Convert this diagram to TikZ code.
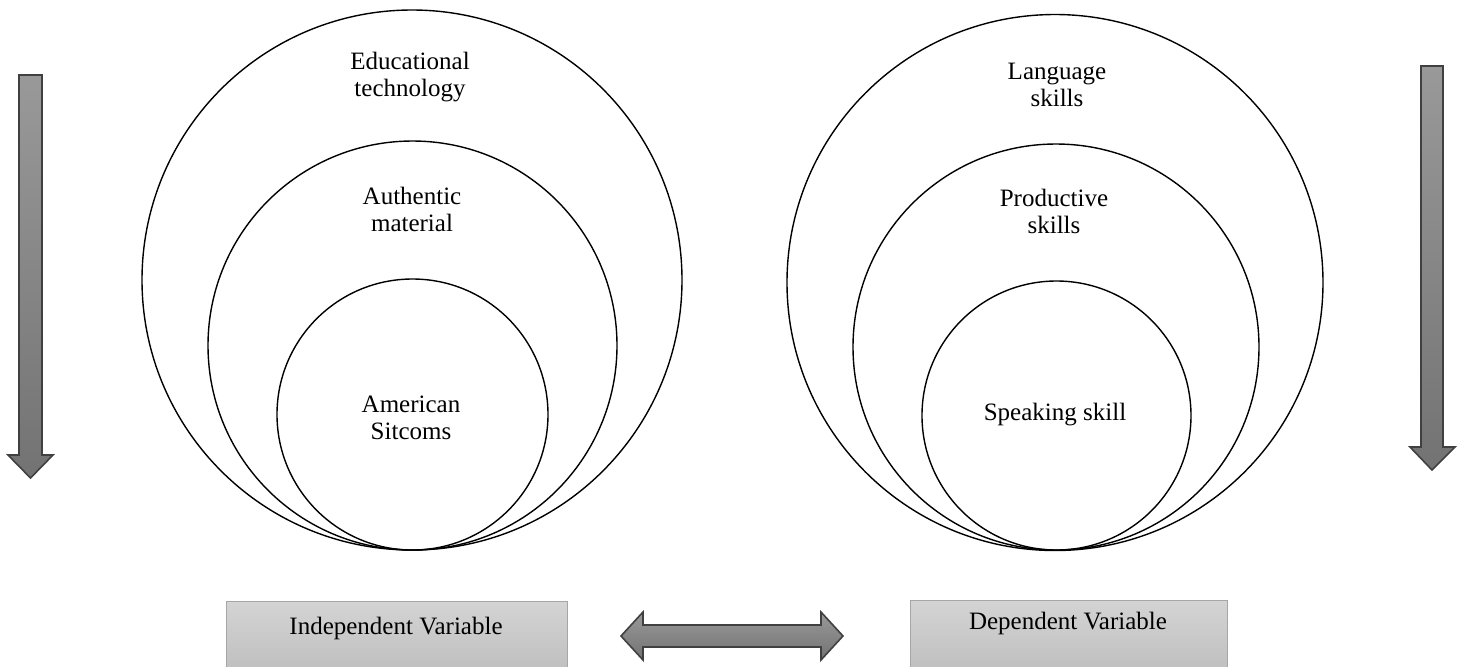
\documentclass[tikz,border=0pt]{standalone}
\usepackage{fontspec}
\setmainfont{Liberation Serif}
\begin{document}
\begin{tikzpicture}[x=0.5pt,y=-0.5pt,
  ring/.style={circle,draw=black,line width=0.7pt,inner sep=0pt},
  lbl/.style={font=\fontsize{12.5}{13.5}\selectfont,align=center,inner sep=0pt},
  arrowshape/.style={draw=black!75,line width=0.8pt,top color=black!40,bottom color=black!55,line join=miter},
  varbox/.style={draw=black!35,line width=0.6pt,top color=black!17,bottom color=black!25,inner sep=0pt}]
\useasboundingbox (0,0) rectangle (1464,666);
\clip (0,0) rectangle (1464,666);
% left circles
\node[ring,minimum size=540*0.5pt] (L1) at (412,280) {};
\node[ring,minimum size=409*0.5pt] (L2) at (412.5,345.5) {};
\node[ring,minimum size=271*0.5pt] (L3) at (412.5,414.5) {};
\node[lbl] (t1) at (410,77) {Educational\\technology};
\node[lbl] (t2) at (412,209) {Authentic\\material};
\node[lbl] (t3) at (411,418) {American\\Sitcoms};
% right circles
\node[ring,minimum size=536*0.5pt] (R1) at (1055,282.5) {};
\node[ring,minimum size=406*0.5pt] (R2) at (1056,347) {};
\node[ring,minimum size=269*0.5pt] (R3) at (1056.5,415.5) {};
\node[lbl] (t4) at (1057,85) {Language\\skills};
\node[lbl] (t5) at (1054,211) {Productive\\skills};
\node[lbl] (t6) at (1055,415) {Speaking skill};
% vertical arrows
\path[arrowshape] (19,75) -- (42,75) -- (42,455) -- (53,455) -- (30.5,478) -- (8,455) -- (19,455) -- cycle;
\path[arrowshape] (1421,66) -- (1443,66) -- (1443,447) -- (1455,447) -- (1432,470) -- (1410,447) -- (1421,447) -- cycle;
% boxes
\node[varbox,minimum width=341*0.5pt,minimum height=69*0.5pt,anchor=north west] (iv) at (226,601) {};
\node[lbl] (ivt) at (396,628) {Independent Variable};
\node[varbox,minimum width=317*0.5pt,minimum height=70*0.5pt,anchor=north west] (dv) at (910,600) {};
\node[lbl] (dvt) at (1068,623) {Dependent Variable};
% double arrow
\path[arrowshape] (621,636) -- (643,612) -- (643,625) -- (821,625) -- (821,612) -- (843,636) -- (821,660) -- (821,647) -- (643,647) -- (643,660) -- cycle;
\end{tikzpicture}
\end{document}
